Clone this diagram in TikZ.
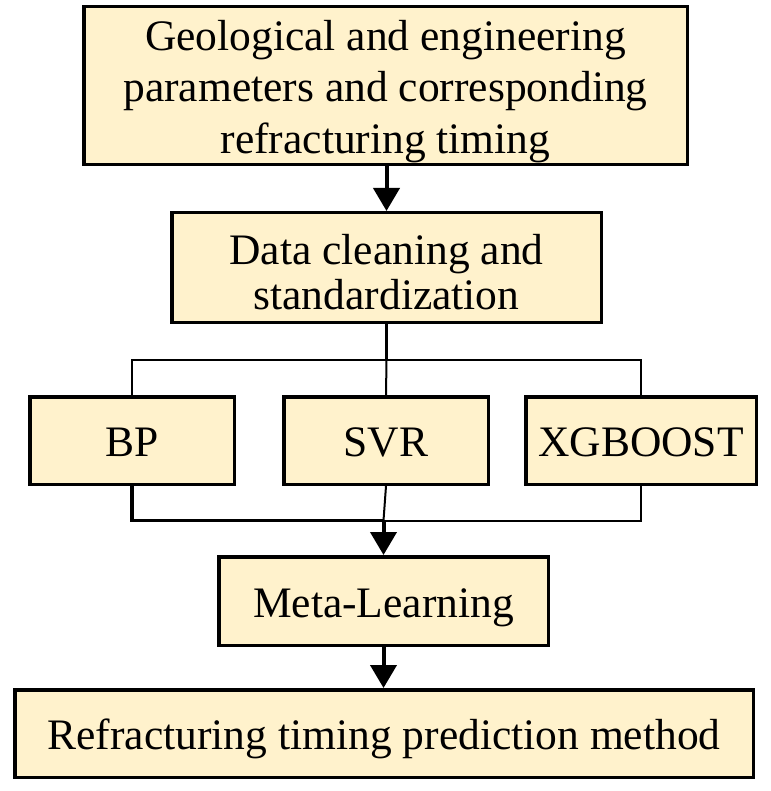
\documentclass[tikz,border=0pt]{standalone}
\usepackage{fontspec}
\setmainfont{Liberation Serif}
\usetikzlibrary{arrows.meta}
\definecolor{boxfill}{HTML}{FFF2CC}
\begin{document}
\begin{tikzpicture}[x=1pt,y=-1pt,
  box/.style={draw=black, line width=3.5pt, fill=boxfill, inner sep=2pt, align=center,
    font=\fontsize{43.5}{51.5}\selectfont},
  single/.style={text height=32pt, text depth=0pt},
  thinconn/.style={line width=2pt},
  thickconn/.style={line width=3.3pt},
  arr/.style={line width=4pt, -{Triangle[length=23pt,width=26pt]}},
]
\path[use as bounding box] (0,0) rectangle (770,791);

\node[box, minimum width=603.5pt, minimum height=147.5pt] (b1) at (385.5,85.5)
  {\rule{0pt}{41.5pt}Geological and engineering\\parameters and corresponding\\refracturing timing};
\node[box, minimum width=429.5pt, minimum height=109.5pt,
  font=\fontsize{43.5}{45}\selectfont] (b2) at (386.5,267.5)
  {\rule{0pt}{40pt}Data cleaning and\\standardization};
\node[box, single, minimum width=204.5pt, minimum height=87.5pt] (bp) at (132,440.5) {BP};
\node[box, single, minimum width=204.5pt, minimum height=87.5pt] (svr) at (386,440.5) {SVR};
\node[box, single, minimum width=230.5pt, minimum height=87.5pt] (xgb) at (641,440.5) {XGBOOST};
\node[box, single, minimum width=329.5pt, minimum height=88.5pt] (meta) at (383.5,601) {Meta-Learning};
\node[box, single, minimum width=738.5pt, minimum height=87.5pt] (res) at (384,733.5)
  {Refracturing timing prediction method};

\draw[arr] (b2.north |- b1.south) -- (b2.north);

\coordinate (s) at (386.5,360);
\draw[line width=2.5pt] (b2.south) -- (s);
\draw[thinconn] (bp.north) |- (s) -| (xgb.north);
\draw[thinconn] (s) -- (svr.north);

\coordinate (j) at (383.5,520.5);
\draw[thickconn] (bp.south) |- (j);
\draw[thinconn] (xgb.south) |- (j);
\draw[thinconn] (svr.south) -- (j);
\draw[arr] (j) -- (meta.north);

\draw[arr] (meta.south) -- (meta.south |- res.north);
\end{tikzpicture}
\end{document}
